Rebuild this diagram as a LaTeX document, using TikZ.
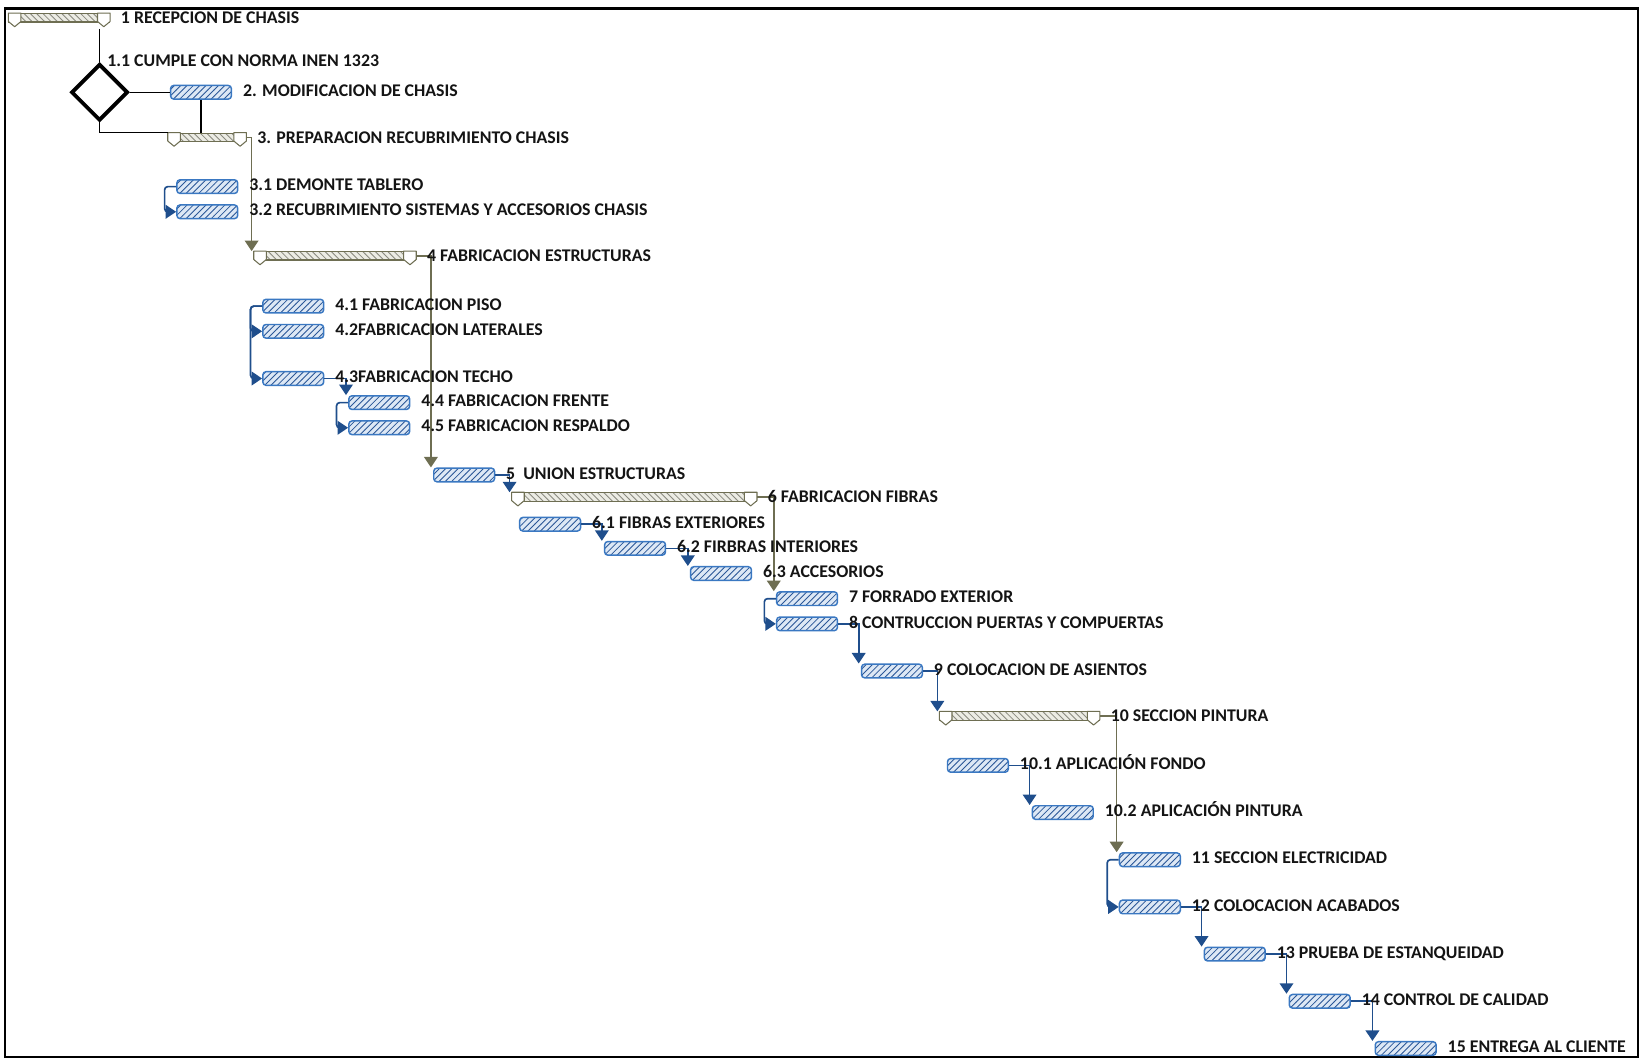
\documentclass[tikz,border=0pt]{standalone}
\usepackage{fontspec}
\setmainfont{Carlito}
\usetikzlibrary{arrows.meta,positioning,shapes.geometric,patterns}
\definecolor{gtblue}{HTML}{3A78C2}
\definecolor{gtlight}{HTML}{DDE8F5}
\definecolor{gthatch}{HTML}{2B5797}
\definecolor{gtarrow}{HTML}{1F4E8C}
\definecolor{gtolive}{HTML}{6E6E52}
\definecolor{gtsum}{HTML}{ECECE4}
\definecolor{gtsumh}{HTML}{8A8A80}
\definecolor{gttext}{HTML}{141414}
\tikzset{
  task/.style={draw=gtblue,preaction={fill=gtlight},pattern=north east lines,
               pattern color=gthatch,rounded corners=1.5pt,line width=0.7pt,
               minimum width=29pt,minimum height=6.5pt,inner sep=0pt,anchor=west},
  summ/.style={draw=gtolive,preaction={fill=gtsum},pattern=north west lines,
               pattern color=gtsumh,line width=0.5pt,minimum height=4pt,
               inner sep=0pt,anchor=west},
  sumtri/.style={draw=gtolive,fill=white,line width=0.5pt,line join=round},
  dec/.style={draw=black,diamond,aspect=1,minimum width=27pt,minimum height=27pt,
              inner sep=0pt,line width=1.8pt},
  blu/.style={-{Triangle[width=6.5pt,length=5pt]},gtarrow,line width=0.8pt,rounded corners=1.5pt},
  olv/.style={-{Triangle[width=6.5pt,length=5pt]},gtolive,line width=0.8pt},
  blk/.style={black,line width=0.6pt},
  lab/.style={font=\fontsize{8.5}{10}\selectfont\bfseries,text=gttext,inner sep=0pt,
              text height=5.6pt,text depth=0pt,yshift=0.8pt},
}
\begin{document}
\begin{tikzpicture}[x=0.5pt,y=-0.5pt]
  \useasboundingbox (0,0) rectangle (1568,1010);
  \draw[line width=1.1pt] (5,8) rectangle (1562,1008);
  % summary bars
  \node[summ,minimum width=48pt] (s1) at (8,17) {};
  \node[summ,minimum width=37pt] (s3) at (160,131) {};
  \node[summ,minimum width=77pt] (s4) at (242,244) {};
  \node[summ,minimum width=116.5pt] (s6) at (488,474) {};
  \node[summ,minimum width=76pt] (s10) at (896,683) {};
  \foreach \s in {s1,s3,s4,s6,s10}{
    \draw[sumtri] (\s.north west) -- ++(12,0) -- ++(0,8) -- ++(-6,5) -- ++(-6,-5) -- cycle;
    \draw[sumtri] (\s.north east) -- ++(-12,0) -- ++(0,8) -- ++(6,5) -- ++(6,-5) -- cycle;
  }
  % decision
  \node[dec] (d11) at (95,88) {};
  \node[lab,anchor=west] (l11) at ([xshift=3.5pt]d11.north) {1.1 CUMPLE CON NORMA INEN 1323};
  % tasks
  \node[task] (t2) at (162,88) {};
  \node[task] (t31) at (168,178) {};
  \node[task] (t32) at (168,202) {};
  \node[task] (t41) at (250,292) {};
  \node[task] (t42) at (250,316) {};
  \node[task] (t43) at (250,361) {};
  \node[task] (t44) at (332,384) {};
  \node[task] (t45) at (332,408) {};
  \node[task] (t5) at (413,453) {};
  \node[task] (t61) at (495,500) {};
  \node[task] (t62) at (576,523) {};
  \node[task] (t63) at (658,547) {};
  \node[task] (t7) at (740,571) {};
  \node[task] (t8) at (740,595) {};
  \node[task] (t9) at (821,640) {};
  \node[task] (t101) at (903,730) {};
  \node[task] (t102) at (984,775) {};
  \node[task] (t11) at (1067,820) {};
  \node[task] (t12) at (1067,865) {};
  \node[task] (t13) at (1148,910) {};
  \node[task] (t14) at (1229,955) {};
  \node[task] (t15) at (1311,1000) {};
  % connectors
  \draw[blk] ([yshift=-3pt]d11.north |- s1.south) -- (d11.north);
  \draw[blk] (d11.east) -- (t2.west);
  \draw[blk] (t2.south) -- (t2.south |- s3.north);
  \draw[blk] (d11.south) |- (s3.north west);
  \foreach \a/\b in {t31/t32,t41/t42,t41/t43,t44/t45,t7/t8,t11/t12}
    {\draw[blu] (\a.west) -- ++(-11,0) |- (\b.west);}
  \foreach \a/\b in {t43/t44,t5/s6,t61/t62,t62/t63,t8/t9,t9/s10,t101/t102,t12/t13,t13/t14,t14/t15}
    {\draw[blu,rounded corners=0pt] (\a.east) -| ([xshift=-1pt]\b.north west);}
  \foreach \a/\b in {s3/s4,s4/t5,s6/t7,s10/t11}
    {\draw[olv] (\a.east) -| ([xshift=-1pt]\b.north west);}
  % labels
  \foreach \n/\t in {s1/1 RECEPCION DE CHASIS,
      s3/3. PREPARACION RECUBRIMIENTO CHASIS,
      s4/4 FABRICACION ESTRUCTURAS,
      s6/6 FABRICACION FIBRAS,
      s10/10 SECCION PINTURA}
    {\node[lab,right=5pt of \n,yshift=-0.8pt] (l\n) {\t};}
  \foreach \n/\t in {t2/2. MODIFICACION DE CHASIS,
      t31/3.1 DEMONTE TABLERO,
      t32/3.2 RECUBRIMIENTO SISTEMAS Y ACCESORIOS CHASIS,
      t41/4.1 FABRICACION PISO,
      t42/4.2FABRICACION LATERALES,
      t43/4.3FABRICACION TECHO,
      t44/4.4 FABRICACION FRENTE,
      t45/4.5 FABRICACION RESPALDO,
      t5/5~ UNION ESTRUCTURAS,
      t61/6.1 FIBRAS EXTERIORES,
      t62/6.2 FIRBRAS INTERIORES,
      t63/6.3 ACCESORIOS,
      t7/7 FORRADO EXTERIOR,
      t8/8 CONTRUCCION PUERTAS Y COMPUERTAS,
      t9/9 COLOCACION DE ASIENTOS,
      t101/10.1 APLICACIÓN FONDO,
      t102/10.2 APLICACIÓN PINTURA,
      t11/11 SECCION ELECTRICIDAD,
      t12/12 COLOCACION ACABADOS,
      t13/13 PRUEBA DE ESTANQUEIDAD,
      t14/14 CONTROL DE CALIDAD,
      t15/15 ENTREGA AL CLIENTE}
    {\node[lab,right=5pt of \n] (l\n) {\t};}
\end{tikzpicture}
\end{document}
